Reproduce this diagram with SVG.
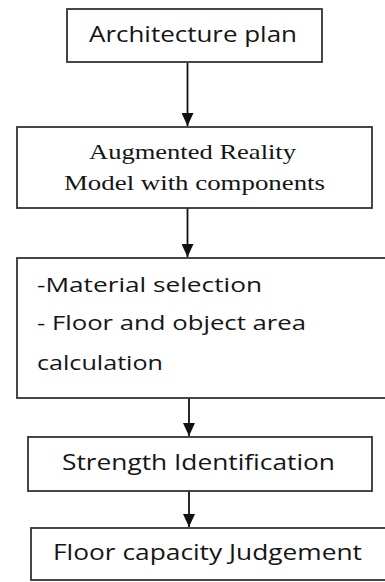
<svg xmlns="http://www.w3.org/2000/svg" width="385" height="582" viewBox="0 0 385 582">
<defs>
<style>
.box{fill:#fff;stroke:#333;stroke-width:1.8}
.sans{font-family:"Open Sans","Liberation Sans",sans-serif;font-size:22px;fill:#151515}
.s20{font-size:20px}
.serif{font-family:"Liberation Serif","DejaVu Serif",serif;font-size:21.5px;fill:#151515}
.conn{stroke:#111;stroke-width:1.8;fill:none}
</style>
<marker id="ah" markerWidth="13" markerHeight="12" refX="13" refY="6" orient="auto" markerUnits="userSpaceOnUse" viewBox="0 0 13 12">
<path d="M0,0 L13,6 L0,12 Z" fill="#111"/>
</marker>
</defs>
<rect width="385" height="582" fill="#fff"/>
<g id="connectors">
<line class="conn" x1="187.5" y1="63" x2="187.5" y2="126" marker-end="url(#ah)"/>
<line class="conn" x1="187.5" y1="208" x2="187.5" y2="257" marker-end="url(#ah)"/>
<line class="conn" x1="189" y1="398" x2="189" y2="436" marker-end="url(#ah)"/>
<line class="conn" x1="189" y1="491" x2="189" y2="527" marker-end="url(#ah)"/>
</g>
<g id="n1">
<rect class="box" x="67" y="9" width="255" height="53"/>
<text class="sans" x="89" y="42" textLength="208" lengthAdjust="spacingAndGlyphs">Architecture plan</text>
</g>
<g id="n2">
<rect class="box" x="17" y="127" width="355" height="81"/>
<text class="serif" x="89" y="158.5" textLength="207" lengthAdjust="spacingAndGlyphs">Augmented Reality</text>
<text class="serif" x="64" y="189.5" textLength="261" lengthAdjust="spacingAndGlyphs">Model with components</text>
</g>
<g id="n3">
<rect class="box" x="17" y="258" width="380" height="140"/>
<text class="sans s20" x="37" y="292" textLength="225" lengthAdjust="spacingAndGlyphs">-Material selection</text>
<text class="sans s20" x="37" y="330" textLength="269" lengthAdjust="spacingAndGlyphs">- Floor and object area</text>
<text class="sans s20" x="37" y="370" textLength="126" lengthAdjust="spacingAndGlyphs">calculation</text>
</g>
<g id="n4">
<rect class="box" x="28" y="437" width="344" height="54"/>
<text class="sans" x="62" y="470" textLength="273" lengthAdjust="spacingAndGlyphs">Strength Identification</text>
</g>
<g id="n5">
<rect class="box" x="31" y="528" width="366" height="52"/>
<text class="sans" x="53" y="560" textLength="309" lengthAdjust="spacingAndGlyphs">Floor capacity Judgement</text>
</g>
</svg>
